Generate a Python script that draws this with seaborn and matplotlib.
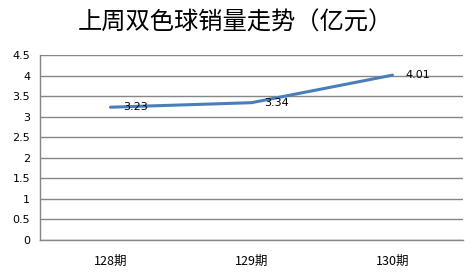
import matplotlib
matplotlib.use("Agg")
import matplotlib.pyplot as plt
import seaborn as sns
from matplotlib.ticker import FixedLocator

categories = ["128期", "129期", "130期"]
values = [3.23, 3.34, 4.01]
value_labels = ["3.23", "3.34", "4.01"]
yticks = [0, 0.5, 1, 1.5, 2, 2.5, 3, 3.5, 4, 4.5]
ytick_labels = ["0", "0.5", "1", "1.5", "2", "2.5", "3", "3.5", "4", "4.5"]
title = "上周双色球销量走势（亿元）"

sns.set_style("white")
plt.rcParams['font.family'] = ['DejaVu Sans', 'Noto Sans CJK SC']
plt.rcParams['text.color'] = 'black'
plt.rcParams['xtick.color'] = 'black'
plt.rcParams['ytick.color'] = 'black'

fig = plt.figure(figsize=(4.74, 2.8), dpi=100)
ax = fig.add_axes([40/474, 1-240/280, (463-40)/474, 185/280])

sns.lineplot(x=categories, y=values, ax=ax, color="#4A7EBB", linewidth=2.2, sort=False)

ax.set_xlim(-0.5, 2.5)
ax.set_ylim(0, 4.5)
ax.set_yticks(yticks)
ax.set_yticklabels(ytick_labels, fontsize=8)
ax.set_xticks(range(len(categories)))
ax.set_xticklabels(categories, fontsize=9, family=['Noto Sans CJK SC'])
ax.xaxis.set_minor_locator(FixedLocator([-0.5, 0.5, 1.5, 2.5]))
ax.tick_params(axis='x', which='major', length=0, pad=11)
ax.tick_params(axis='x', which='minor', length=4, color="#868686", width=1)
ax.tick_params(axis='y', which='major', length=4, color="#868686", width=1, pad=3)
ax.yaxis.grid(True, color="#868686", linewidth=1)
ax.set_axisbelow(True)
for s in ["top", "right"]:
    ax.spines[s].set_visible(False)
for s in ["left", "bottom"]:
    ax.spines[s].set_color("#868686")
    ax.spines[s].set_linewidth(1)
ax.set_xlabel("")
ax.set_ylabel("")

for i, (v, lab) in enumerate(zip(values, value_labels)):
    ax.annotate(lab, (i, v), xytext=(9, 0), textcoords="offset points",
                ha="left", va="center", fontsize=8, color="black")

fig.text(0.4975, 1-23/280, title, ha="center", va="center", fontsize=17.5,
         family=['Noto Sans CJK SC'], weight='medium', color="black")

fig.savefig("out.png", dpi=100)
